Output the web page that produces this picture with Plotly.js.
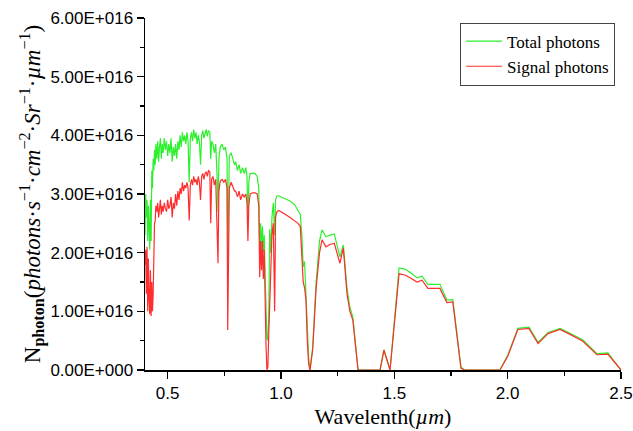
<!DOCTYPE html>
<html>
<head>
<meta charset="utf-8">
<script src="https://cdn.plot.ly/plotly-3.0.1.min.js"></script>
<style>html,body{margin:0;padding:0;background:#fff;}#chart{width:633px;height:431px;}</style>
</head>
<body>
<div id="chart"></div>
<script>
// Wavelength (µm)
const wavelength = [
0.400,0.403,0.406,0.409,0.412,0.415,0.418,0.421,0.424,0.427,
0.430,0.433,0.436,0.439,0.442,0.445,0.448,0.452,0.456,0.460,
0.464,0.468,0.472,0.476,0.480,0.485,0.490,0.495,0.500,0.505,
0.510,0.515,0.520,0.525,0.530,0.535,0.540,0.545,0.550,0.555,
0.560,0.565,0.570,0.575,0.580,0.585,0.590,0.595,0.600,0.605,
0.610,0.615,0.620,0.625,0.630,0.635,0.640,0.645,0.650,0.655,
0.660,0.665,0.670,0.675,0.680,0.686,0.690,0.694,0.700,0.706,
0.712,0.718,0.722,0.726,0.732,0.740,0.748,0.755,0.762,0.765,
0.768,0.772,0.780,0.788,0.795,0.800,0.808,0.815,0.822,0.830,
0.838,0.845,0.850,0.854,0.858,0.864,0.875,0.885,0.895,0.902,
0.906,0.910,0.914,0.918,0.922,0.926,0.930,0.934,0.938,0.942,
0.946,0.950,0.955,0.960,0.966,0.972,0.976,0.982,0.990,1.000,
1.020,1.040,1.060,1.075,1.085,1.092,1.098,1.104,1.110,1.116,
1.122,1.128,1.140,1.155,1.170,1.181,1.198,1.216,1.235,1.260,
1.275,1.291,1.304,1.317,1.330,1.340,1.357,1.437,1.454,1.481,
1.521,1.547,1.575,1.600,1.622,1.648,1.701,1.732,1.758,1.776,
1.794,1.810,1.966,2.001,2.045,2.094,2.134,2.178,2.231,2.284,
2.332,2.394,2.442,2.500
];
// Total photons (×1E+16 photons·s⁻¹·cm⁻²·Sr⁻¹·µm⁻¹)
const totalPhotons = [
2.30,3.00,2.60,2.90,2.20,2.80,2.45,2.05,2.90,2.20,
3.40,3.10,3.60,3.40,3.75,3.50,3.85,3.60,3.90,3.55,
3.80,3.95,3.60,3.85,3.70,3.95,3.75,3.90,3.65,3.85,
3.70,3.95,3.55,3.80,3.65,3.85,3.60,3.90,3.75,4.00,
3.80,4.05,3.90,4.00,3.85,4.05,3.90,3.20,3.95,4.05,
3.90,4.10,3.95,4.05,3.85,4.00,3.90,3.50,4.00,4.08,
3.95,4.05,4.10,3.98,4.08,4.05,3.60,3.90,3.85,3.70,
3.85,3.30,2.70,3.60,3.80,3.85,3.75,3.80,3.60,1.80,
3.20,3.65,3.70,3.60,3.50,3.55,3.40,3.50,3.35,3.45,
3.35,3.45,3.30,2.55,3.20,3.35,3.35,3.35,3.30,3.10,
2.10,2.50,2.10,2.45,2.00,2.30,1.60,1.20,0.55,0.50,
0.90,2.40,2.00,2.60,2.85,2.30,2.90,2.97,2.97,2.95,
2.92,2.88,2.82,2.72,2.65,2.30,1.76,1.85,1.30,0.60,
0.20,0.00,0.40,1.50,2.20,2.39,2.27,2.30,2.32,1.93,
2.13,1.40,1.07,0.90,0.45,0.00,0.00,0.00,0.34,0.00,
1.74,1.72,1.65,1.57,1.60,1.46,1.46,1.19,1.20,0.60,
0.05,0.00,0.00,0.26,0.71,0.73,0.47,0.64,0.71,0.61,
0.51,0.28,0.29,0.00
];
// Signal photons (×1E+16 photons·s⁻¹·cm⁻²·Sr⁻¹·µm⁻¹)
const signalPhotons = [
1.80,2.05,1.30,2.10,1.00,1.90,1.20,0.95,1.70,0.92,
1.50,1.00,1.30,2.00,2.50,2.55,2.80,2.70,2.85,2.60,
2.75,2.90,2.65,2.80,2.70,2.85,2.75,2.70,2.90,2.75,
2.80,2.95,2.60,2.85,2.75,3.00,2.80,3.05,2.90,3.10,
3.00,3.20,3.05,3.15,3.10,3.20,3.10,2.55,3.15,3.25,
3.15,3.30,3.20,3.25,3.15,3.30,3.20,2.90,3.30,3.35,
3.25,3.35,3.38,3.30,3.40,3.38,2.50,3.25,3.30,3.15,
3.25,2.60,1.82,3.05,3.22,3.25,3.20,3.25,3.10,0.68,
2.60,3.10,3.20,3.10,3.05,3.05,2.95,3.05,2.90,3.00,
2.95,3.00,2.85,2.20,2.80,3.00,3.02,3.02,3.00,2.80,
1.58,2.20,1.70,2.20,1.55,2.05,1.10,0.40,0.00,0.05,
0.60,1.00,1.70,2.30,2.50,1.00,2.60,2.70,2.72,2.70,
2.65,2.60,2.55,2.50,2.45,2.00,1.50,1.40,1.20,0.50,
0.10,0.00,0.35,1.40,2.00,2.22,2.10,2.14,2.16,1.82,
2.08,1.30,1.00,0.85,0.40,0.00,0.00,0.00,0.34,0.00,
1.64,1.62,1.56,1.50,1.53,1.39,1.39,1.15,1.16,0.55,
0.03,0.00,0.00,0.24,0.69,0.71,0.45,0.62,0.69,0.59,
0.49,0.26,0.27,0.00
];
const seriesNames = ['Total photons', 'Signal photons'];
const yTickValues = [0,1,2,3,4,5,6];
const yTickLabels = ['0.00E+000','1.00E+016','2.00E+016','3.00E+016','4.00E+016','5.00E+016','6.00E+016'];
const yMinorTicks = [0.5,1.5,2.5,3.5,4.5,5.5];
const xTickValues = [0.5,1.0,1.5,2.0,2.5];
const xTickLabels = ['0.5','1.0','1.5','2.0','2.5'];
const xMinorTicks = [0.75,1.25,1.75,2.25];

const E16 = 1e16;
const traces = [
  {x: wavelength, y: totalPhotons.map(v => v*E16), name: seriesNames[0], type:'scatter', mode:'lines',
   line:{color:'rgb(45,240,45)', width:1.2}, cliponaxis:false},
  {x: wavelength, y: signalPhotons.map(v => v*E16), name: seriesNames[1], type:'scatter', mode:'lines',
   line:{color:'rgb(255,45,45)', width:1.2}, cliponaxis:false}
];
const axisFont = {family:'Liberation Sans, Arial, sans-serif', size:17, color:'black'};
const serif = 'Liberation Serif, Times New Roman, serif';
const layout = {
  width:633, height:431,
  margin:{l:145, r:12, t:18, b:61},
  paper_bgcolor:'white', plot_bgcolor:'white',
  showlegend:true,
  legend:{x:0.662, y:0.987, xanchor:'left', yanchor:'top', bgcolor:'white', bordercolor:'#444', borderwidth:1,
          font:{family:serif, size:17, color:'black'}, tracegroupgap:0, itemwidth:36},
  xaxis:{range:[0.4,2.5], tickmode:'array', tickvals:xTickValues, ticktext:xTickLabels,
         ticks:'outside', ticklen:7, tickwidth:1.5, tickcolor:'black',
         minor:{tickmode:'array', tickvals:xMinorTicks, ticks:'outside', ticklen:4, tickwidth:1.5, tickcolor:'black'},
         showline:true, linecolor:'black', linewidth:1.5, showgrid:false, zeroline:false, layer:'below traces',
         tickfont:axisFont,
         title:{text:'Wavelenth(<i>µm</i>)', standoff:6, font:{family:serif, size:22, color:'black'}}},
  yaxis:{range:[0,6*E16], tickmode:'array', tickvals:yTickValues.map(v=>v*E16), ticktext:yTickLabels,
         ticks:'outside', ticklen:7, tickwidth:1.5, tickcolor:'black',
         minor:{tickmode:'array', tickvals:yMinorTicks.map(v=>v*E16), ticks:'outside', ticklen:4, tickwidth:1.5, tickcolor:'black'},
         showline:true, linecolor:'black', linewidth:1.5, showgrid:false, zeroline:false, layer:'below traces',
         tickfont:axisFont,
         title:{text:'N<sub><b>photon</b></sub>(<i>photons</i>·<i>s</i><sup>−1</sup>·<i>cm</i><sup>−2</sup>·<i>Sr</i><sup>−1</sup>·<i>µm</i><sup>−1</sup>)',
                font:{family:serif, size:23, color:'black'}}}
};
Plotly.newPlot('chart', traces, layout, {staticPlot:true, displayModeBar:false});
</script>
</body>
</html>
